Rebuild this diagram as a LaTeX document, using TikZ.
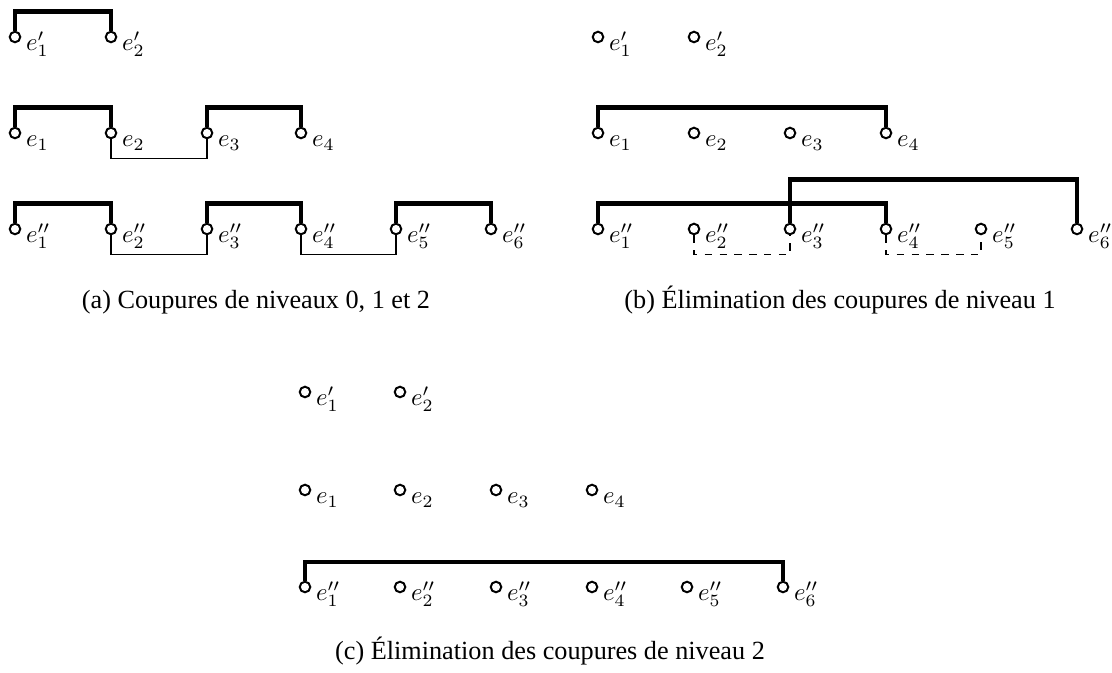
\documentclass[tikz,border=0pt]{standalone}
\usepackage{amsmath,amssymb,amsfonts}
\usepackage{fontspec}
\setmainfont{Liberation Serif}
\usepackage{xcolor}
\usepackage{tikz}

\begin{document}
\begin{tikzpicture}[
  x=0.0142cm, y=-0.0142cm,
  pt/.style={circle, draw, line width=0.8pt, inner sep=0pt, minimum size=1.5mm, fill=white},
  lbl/.style={anchor=base west, inner sep=0pt, xshift=1.8pt, yshift=-5.5pt},
  cut/.style={line width=1.8pt},
  link/.style={line width=0.5pt},
  legende/.style={anchor=base, font=\fontsize{10.6}{13}\selectfont}
]
\useasboundingbox (0,0) rectangle (1112,673);

% (a) niveaux 0, 1 et 2
\node[pt, label={[lbl]0:$e'_1$}] (ap1) at (15,37) {};
\node[pt, label={[lbl]0:$e'_2$}] (ap2) at (111,37) {};
\node[pt, label={[lbl]0:$e_1$}] (a1) at (15,133) {};
\node[pt, label={[lbl]0:$e_2$}] (a2) at (111,133) {};
\node[pt, label={[lbl]0:$e_3$}] (a3) at (207,133) {};
\node[pt, label={[lbl]0:$e_4$}] (a4) at (301,133) {};
\node[pt, label={[lbl]0:$e''_1$}] (ad1) at (15,229) {};
\node[pt, label={[lbl]0:$e''_2$}] (ad2) at (111,229) {};
\node[pt, label={[lbl]0:$e''_3$}] (ad3) at (207,229) {};
\node[pt, label={[lbl]0:$e''_4$}] (ad4) at (301,229) {};
\node[pt, label={[lbl]0:$e''_5$}] (ad5) at (396,229) {};
\node[pt, label={[lbl]0:$e''_6$}] (ad6) at (491,229) {};

\draw[cut] (ap1.north) -- ++(0,-19) -| (ap2.north);
\draw[cut] (a1.north) -- ++(0,-19) -| (a2.north);
\draw[cut] (a3.north) -- ++(0,-19) -| (a4.north);
\draw[link] (a2.south) -- ++(0,19) -| (a3.south);
\draw[cut] (ad1.north) -- ++(0,-19) -| (ad2.north);
\draw[cut] (ad3.north) -- ++(0,-19) -| (ad4.north);
\draw[cut] (ad5.north) -- ++(0,-19) -| (ad6.north);
\draw[link] (ad2.south) -- ++(0,19) -| (ad3.south);
\draw[link] (ad4.south) -- ++(0,19) -| (ad5.south);
\node[legende] (capa) at (256,309) {(a) Coupures de niveaux 0, 1 et 2};

% (b) niveau 1 elimine
\node[pt, label={[lbl]0:$e'_1$}] (bp1) at (598,37) {};
\node[pt, label={[lbl]0:$e'_2$}] (bp2) at (694,37) {};
\node[pt, label={[lbl]0:$e_1$}] (b1) at (598,133) {};
\node[pt, label={[lbl]0:$e_2$}] (b2) at (694,133) {};
\node[pt, label={[lbl]0:$e_3$}] (b3) at (790,133) {};
\node[pt, label={[lbl]0:$e_4$}] (b4) at (886,133) {};
\node[pt, label={[lbl]0:$e''_1$}] (bd1) at (598,229) {};
\node[pt, label={[lbl]0:$e''_2$}] (bd2) at (694,229) {};
\node[pt, label={[lbl]0:$e''_3$}] (bd3) at (790,229) {};
\node[pt, label={[lbl]0:$e''_4$}] (bd4) at (886,229) {};
\node[pt, label={[lbl]0:$e''_5$}] (bd5) at (981,229) {};
\node[pt, label={[lbl]0:$e''_6$}] (bd6) at (1077,229) {};

\draw[cut] (b1.north) -- ++(0,-19) -| (b4.north);
\draw[cut] (bd1.north) -- ++(0,-19) -| (bd4.north);
\draw[cut] (bd3.north) -- ++(0,-43) -| (bd6.north);
\draw[link, dashed] (bd2.south) -- ++(0,19) -| (bd3.south);
\draw[link, dashed] (bd4.south) -- ++(0,19) -| (bd5.south);
\node[legende] (capb) at (840,309) {(b) Élimination des coupures de niveau 1};

% (c) niveau 2 elimine
\node[pt, label={[lbl]0:$e'_1$}] (cp1) at (305,392) {};
\node[pt, label={[lbl]0:$e'_2$}] (cp2) at (400,392) {};
\node[pt, label={[lbl]0:$e_1$}] (c1) at (305,490) {};
\node[pt, label={[lbl]0:$e_2$}] (c2) at (400,490) {};
\node[pt, label={[lbl]0:$e_3$}] (c3) at (496,490) {};
\node[pt, label={[lbl]0:$e_4$}] (c4) at (592,490) {};
\node[pt, label={[lbl]0:$e''_1$}] (cd1) at (305,587) {};
\node[pt, label={[lbl]0:$e''_2$}] (cd2) at (400,587) {};
\node[pt, label={[lbl]0:$e''_3$}] (cd3) at (496,587) {};
\node[pt, label={[lbl]0:$e''_4$}] (cd4) at (592,587) {};
\node[pt, label={[lbl]0:$e''_5$}] (cd5) at (687,587) {};
\node[pt, label={[lbl]0:$e''_6$}] (cd6) at (783,587) {};

\draw[cut] (cd1.north) -- ++(0,-19) -| (cd6.north);
\node[legende] (capc) at (550,660) {(c) Élimination des coupures de niveau 2};
\end{tikzpicture}
\end{document}
